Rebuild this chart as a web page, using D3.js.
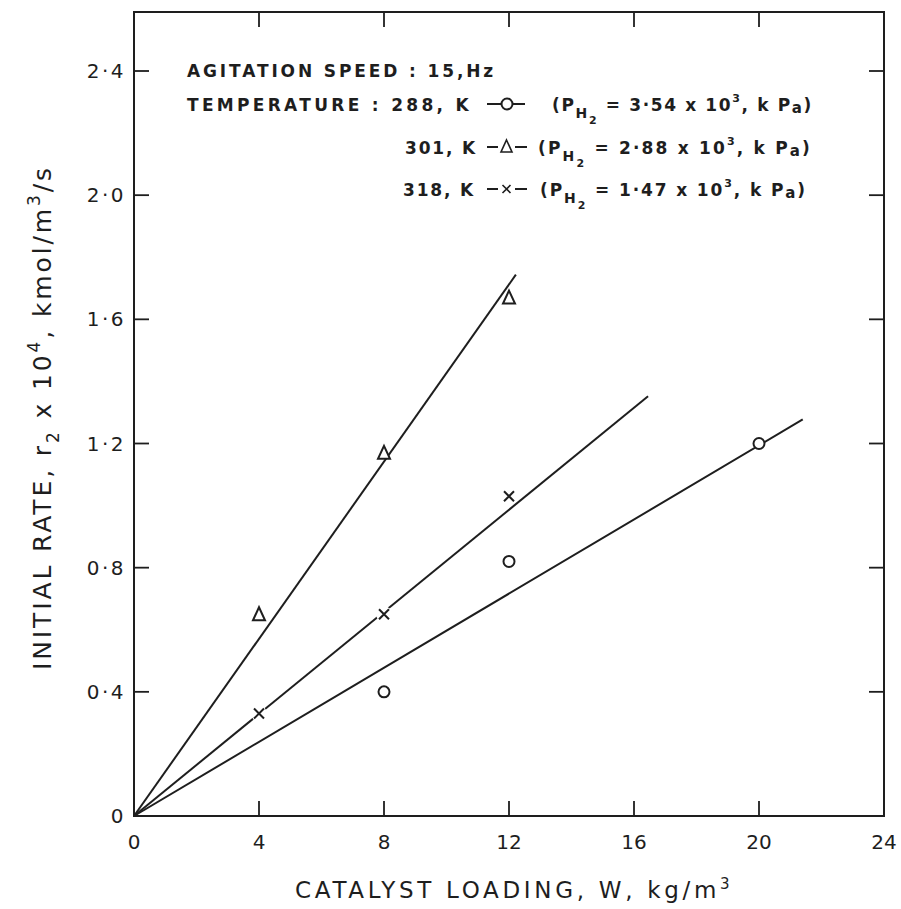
<!DOCTYPE html>
<html><head><meta charset="utf-8">
<script src="https://cdn.jsdelivr.net/npm/d3@7"></script>
<style>body{margin:0;background:#fff} svg{display:block}</style>
</head><body><svg id="chart" width="901" height="909"></svg>
<script>
// Axis ticks
const loadingTicks = [0, 4, 8, 12, 16, 20, 24];
const loadingTickLabels = ["0", "4", "8", "12", "16", "20", "24"];
const rateTicks = [0, 0.4, 0.8, 1.2, 1.6, 2.0, 2.4];
const rateTickLabels = ["0", "0·4", "0·8", "1·2", "1·6", "2·0", "2·4"];

// Measured initial rates (r2 x 10^4, kmol/m3/s) against catalyst loading (kg/m3)
const loading288 = [8, 12, 20];
const rate288 = [0.40, 0.82, 1.20];
const loading301 = [4, 8, 12];
const rate301 = [0.65, 1.17, 1.67];
const loading318 = [4, 8, 12];
const rate318 = [0.33, 0.65, 1.03];

// Straight lines through the origin: slope and the loading where each line stops
const lineSlopes = [0.0597, 0.1427, 0.0822];
const lineEnds = [21.4, 12.22, 16.45];

// Legend wording
const agitationText = "AGITATION  SPEED : 15,Hz";
const temperatureLabels = ["TEMPERATURE : 288, K", "301, K", "318, K"];
const pressureValues = ["3·54", "2·88", "1·47"];

const svg = d3.select("#chart");
const ink = "#1e1e1e";
const frameL = 134, frameR = 884, frameB = 816, frameT = 12;

const x = d3.scaleLinear().domain([0, 24]).range([frameL, frameR]);
const y = d3.scaleLinear().domain([0, 2.4]).range([frameB, 71]);

// stretch a text's letter spacing so it runs to a given width
function fitWidth(sel, width) {
  const node = sel.node();
  sel.attr("letter-spacing", 0);
  const natural = node.getComputedTextLength();
  const n = node.textContent.length;
  sel.attr("letter-spacing", Math.max(0, (width - natural) / n));
  return sel;
}

// frame
svg.append("rect").attr("x", frameL).attr("y", frameT)
  .attr("width", frameR - frameL).attr("height", frameB - frameT)
  .attr("fill", "none").attr("stroke", ink).attr("stroke-width", 2);

const tickLen = 15;
// inward ticks on all four sides
const g = svg.append("g").attr("stroke", ink).attr("stroke-width", 1.8);
loadingTicks.slice(1, -1).forEach(v => {
  g.append("line").attr("x1", x(v)).attr("x2", x(v)).attr("y1", frameB).attr("y2", frameB - tickLen);
  g.append("line").attr("x1", x(v)).attr("x2", x(v)).attr("y1", frameT).attr("y2", frameT + tickLen);
});
rateTicks.slice(1).forEach(v => {
  g.append("line").attr("x1", frameL).attr("x2", frameL + tickLen).attr("y1", y(v)).attr("y2", y(v));
  g.append("line").attr("x1", frameR).attr("x2", frameR - tickLen).attr("y1", y(v)).attr("y2", y(v));
});

const tickFont = "'DejaVu Sans', sans-serif";
svg.append("g").selectAll("text").data(loadingTicks).join("text")
  .attr("x", d => x(d)).attr("y", 849)
  .attr("text-anchor", "middle").attr("font-family", tickFont)
  .attr("font-size", 20).attr("fill", ink)
  .text((d, i) => loadingTickLabels[i]);
svg.append("g").selectAll("text").data(rateTicks).join("text")
  .attr("x", 126).attr("y", d => y(d) + 7)
  .attr("text-anchor", "end").attr("font-family", tickFont)
  .attr("font-size", 20).attr("letter-spacing", 2.5).attr("fill", ink)
  .text((d, i) => rateTickLabels[i]);

// axis titles
const titleFont = "'DejaVu Sans', sans-serif";
const xt = svg.append("text").attr("x", 295).attr("y", 898)
  .attr("font-family", titleFont).attr("font-size", 23).attr("fill", ink);
const xMain = xt.append("tspan").text("CATALYST LOADING, W, kg/m");
xt.append("tspan").attr("dy", -9).attr("font-size", 15).attr("letter-spacing", 0).text("3");
fitWidth(xMain, 425);

const yt = svg.append("text").attr("transform", "translate(51,670) rotate(-90)")
  .attr("font-family", titleFont).attr("font-size", 25).attr("fill", ink);
yt.append("tspan").text("INITIAL RATE, r");
yt.append("tspan").attr("dy", 8).attr("font-size", 17).text("2");
yt.append("tspan").attr("dy", -8).text(" x 10");
yt.append("tspan").attr("dy", -11).attr("font-size", 17).text("4");
yt.append("tspan").attr("dy", 11).text(", kmol/m");
yt.append("tspan").attr("dy", -11).attr("font-size", 17).text("3");
yt.append("tspan").attr("dy", 11).text("/s");
fitWidth(yt, 505);

// fitted lines
const lines = svg.append("g").attr("stroke", ink).attr("stroke-width", 2).attr("fill", "none");
lineSlopes.forEach((s, i) => {
  lines.append("line").attr("x1", x(0)).attr("y1", y(0))
    .attr("x2", x(lineEnds[i])).attr("y2", y(s * lineEnds[i]));
});

// markers
const marks = svg.append("g").attr("stroke", ink).attr("stroke-width", 2);
function circleMark(sel, cx, cy) {
  sel.append("circle").attr("cx", cx).attr("cy", cy).attr("r", 5.5).attr("fill", "#fff");
}
function triangleMark(sel, cx, cy) {
  sel.append("path").attr("d", `M${cx},${cy - 7}L${cx + 6},${cy + 6}L${cx - 6},${cy + 6}Z`)
    .attr("fill", "#fff").attr("stroke-linejoin", "miter");
}
function crossMark(sel, cx, cy) {
  sel.append("circle").attr("cx", cx).attr("cy", cy).attr("r", 8).attr("fill", "#fff").attr("stroke", "none");
  sel.append("path").attr("d", `M${cx - 5},${cy - 5}L${cx + 5},${cy + 5}M${cx + 5},${cy - 5}L${cx - 5},${cy + 5}`)
    .attr("fill", "none");
}
loading288.forEach((v, i) => circleMark(marks, x(v), y(rate288[i])));
loading301.forEach((v, i) => triangleMark(marks, x(v), y(rate301[i])));
loading318.forEach((v, i) => crossMark(marks, x(v), y(rate318[i])));

// legend block
const legFont = "'DejaVu Sans', sans-serif";
const leg = svg.append("g").attr("font-family", legFont).attr("font-size", 17)
  .attr("font-weight", "bold").attr("fill", ink);
fitWidth(leg.append("text").attr("x", 187).attr("y", 77).text(agitationText), 312);

const legendRows = [
  { lx: 187, lw: 285, cy: 104, px: 552, pw: 261, mark: "circle" },
  { lx: 405, lw: 72, cy: 147, px: 538, pw: 274, mark: "triangle" },
  { lx: 403, lw: 72, cy: 189, px: 540, pw: 267, mark: "cross" }
];
legendRows.forEach((r, i) => {
  fitWidth(leg.append("text").attr("x", r.lx).attr("y", r.cy + 6.5).text(temperatureLabels[i]), r.lw);
  const t = leg.append("text").attr("x", r.px).attr("y", r.cy + 6.5);
  t.append("tspan").text("(P");
  t.append("tspan").attr("dy", 7).attr("font-size", 14).text("H");
  t.append("tspan").attr("dy", 6).attr("font-size", 11).text("2");
  t.append("tspan").attr("dy", -13).text(" = " + pressureValues[i] + " x 10");
  t.append("tspan").attr("dy", -9).attr("font-size", 11).text("3");
  t.append("tspan").attr("dy", 9).text(", k P");
  t.append("tspan").attr("dy", 2).attr("font-size", 15).text("a");
  t.append("tspan").attr("dy", -2).text(")");
  fitWidth(t, r.pw);

  const lg = svg.append("g").attr("stroke", ink).attr("stroke-width", 2);
  const sx = 487;
  if (r.mark === "circle") {
    lg.append("line").attr("x1", sx).attr("x2", sx + 38).attr("y1", r.cy).attr("y2", r.cy);
    lg.append("circle").attr("cx", sx + 20).attr("cy", r.cy).attr("r", 5.5).attr("fill", "#fff");
  } else {
    lg.append("line").attr("x1", sx).attr("x2", sx + 11).attr("y1", r.cy).attr("y2", r.cy);
    lg.append("line").attr("x1", sx + 28).attr("x2", sx + 40).attr("y1", r.cy).attr("y2", r.cy);
    if (r.mark === "triangle") {
      lg.append("path").attr("d", `M${sx + 19.5},${r.cy - 7}L${sx + 25},${r.cy + 5}L${sx + 14},${r.cy + 5}Z`)
        .attr("fill", "none").attr("stroke-width", 1.6);
    } else {
      lg.append("path").attr("d", `M${sx + 15.5},${r.cy - 4}L${sx + 23.5},${r.cy + 4}M${sx + 23.5},${r.cy - 4}L${sx + 15.5},${r.cy + 4}`)
        .attr("stroke-width", 1.6);
    }
  }
});
</script></body></html>
